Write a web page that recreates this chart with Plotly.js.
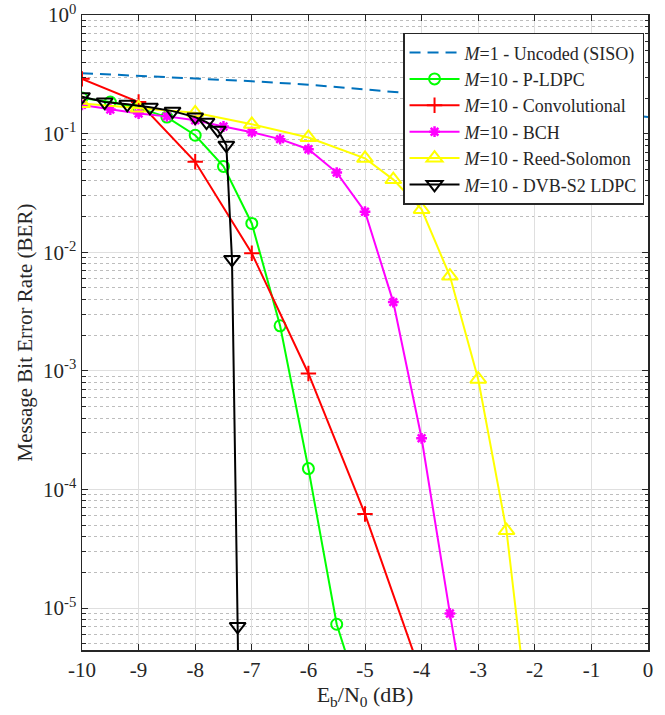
<!DOCTYPE html>
<html>
<head>
<meta charset="utf-8">
<script src="https://cdn.plot.ly/plotly-3.0.1.min.js"></script>
<style>html,body{margin:0;padding:0;background:#fff;}#chart{width:665px;height:715px;}</style>
</head>
<body>
<div id="chart"></div>
<script>
// ---- data ----
const uncodedX = [-10, -9, -8, -7, -6, -5, -4, -3, -2, -1, 0];
const uncodedY = [0.324, 0.309, 0.294, 0.277, 0.259, 0.237, 0.215, 0.194, 0.174, 0.155, 0.138];

const pldpcX = [-10, -9.5, -9, -8.5, -8, -7.5, -7, -6.5, -6, -5.5, -5];
const pldpcY = [0.20, 0.185, 0.165, 0.138, 0.097, 0.053, 0.0175, 0.0024, 1.5e-4, 7.3e-6, 1.3e-6];

const convX = [-10, -9, -8, -7, -6, -5, -4];
const convY = [0.29, 0.185, 0.058, 0.0098, 9.5e-4, 6.2e-5, 2.7e-6];

const bchX = [-10, -9.5, -9, -8.5, -8, -7.5, -7, -6.5, -6, -5.5, -5, -4.5, -4, -3.5, -3];
const bchY = [0.175, 0.16, 0.148, 0.14, 0.13, 0.115, 0.103, 0.09, 0.074, 0.047, 0.022, 0.0038, 2.7e-4, 9e-6, 3.5e-7];

const rsX = [-10, -9, -8, -7, -6, -5, -4.5, -4, -3.5, -3, -2.5, -2];
const rsY = [0.18, 0.165, 0.15, 0.12, 0.093, 0.062, 0.041, 0.023, 0.0063, 8.5e-4, 4.5e-5, 4e-7];

const dvbX = [-10, -9.6, -9.2, -8.8, -8.4, -8, -7.8, -7.6, -7.45, -7.35, -7.25, -7.2];
const dvbY = [0.205, 0.185, 0.177, 0.167, 0.155, 0.138, 0.125, 0.107, 0.08, 0.0087, 7e-6, 1e-7];

const names = [
  '<i>M</i>=1 - Uncoded (SISO)',
  '<i>M</i>=10 - P-LDPC',
  '<i>M</i>=10 - Convolutional',
  '<i>M</i>=10 - BCH',
  '<i>M</i>=10 - Reed-Solomon',
  '<i>M</i>=10 - DVB-S2 LDPC'
];

const xTickVals = [-10, -9, -8, -7, -6, -5, -4, -3, -2, -1, 0];
const yTickVals = [1e-5, 1e-4, 1e-3, 1e-2, 1e-1, 1];
const yTickText = ['10<sup>-5</sup>', '10<sup>-4</sup>', '10<sup>-3</sup>', '10<sup>-2</sup>', '10<sup>-1</sup>', '10<sup>0</sup>'];

// minor tick positions for log axis (2..9 per decade)
const yMinor = [];
for (let e = -6; e <= -1; e++) for (let k = 2; k <= 9; k++) yMinor.push(k * Math.pow(10, e));

const traces = [
  {x: uncodedX, y: uncodedY, name: names[0], mode: 'lines',
   line: {color: '#0072BD', width: 2, dash: '11px,7px'}},
  {x: pldpcX, y: pldpcY, name: names[1], mode: 'lines+markers',
   line: {color: '#00FF00', width: 2},
   marker: {symbol: 'circle-open', size: 11, color: '#00FF00', line: {width: 2, color: '#00FF00'}}},
  {x: convX, y: convY, name: names[2], mode: 'lines+markers',
   line: {color: '#FF0000', width: 2},
   marker: {symbol: 'cross-thin-open', size: 11, color: '#FF0000', line: {width: 2, color: '#FF0000'}}},
  {x: bchX, y: bchY, name: names[3], mode: 'lines+markers',
   line: {color: '#FF00FF', width: 2},
   marker: {symbol: 'asterisk-open', size: 9, color: '#FF00FF', line: {width: 2.5, color: '#FF00FF'}}},
  {x: rsX, y: rsY, name: names[4], mode: 'lines+markers',
   line: {color: '#FFFF00', width: 2},
   marker: {symbol: 'triangle-up-open', size: 14, color: '#FFFF00', line: {width: 2, color: '#FFFF00'}}},
  {x: dvbX, y: dvbY, name: names[5], mode: 'lines+markers',
   line: {color: '#000000', width: 2},
   marker: {symbol: 'triangle-down-open', size: 14, color: '#000000', line: {width: 2, color: '#000000'}}}
];

const font = {family: '"Liberation Serif", "Times New Roman", serif', color: '#262626'};

const layout = {
  width: 665, height: 715,
  margin: {l: 82, r: 17, t: 15, b: 65, pad: 0},
  paper_bgcolor: '#ffffff', plot_bgcolor: '#ffffff',
  font: Object.assign({size: 19}, font),
  showlegend: true,
  legend: {
    x: 0.993, y: 0.972, xanchor: 'right', yanchor: 'top',
    bgcolor: '#ffffff', bordercolor: '#262626', borderwidth: 1.5,
    font: Object.assign({size: 18}, font), tracegroupgap: 0,
    itemwidth: 50
  },
  xaxis: {
    range: [-10, 0], tickvals: xTickVals, ticktext: xTickVals.map(v => String(v)),
    ticks: 'inside', ticklen: 6, tickwidth: 1, tickcolor: '#262626',
    showline: true, linecolor: '#262626', linewidth: 1.5, mirror: 'ticks',
    showgrid: true, gridcolor: '#dfdfdf', gridwidth: 1,
    zeroline: false, ticklabeloverflow: 'allow',
    tickfont: Object.assign({size: 21}, font),
    title: {text: 'E<sub>b</sub>/N<sub>0</sub> (dB)', font: Object.assign({size: 22}, font), standoff: 6}
  },
  yaxis: {
    type: 'log', range: [-5.354, 0.001],
    tickvals: yTickVals, ticktext: yTickText,
    ticks: 'inside', ticklen: 6, tickwidth: 1, tickcolor: '#262626',
    showline: true, linecolor: '#262626', linewidth: 1.5, mirror: 'ticks',
    showgrid: true, gridcolor: '#dfdfdf', gridwidth: 1,
    zeroline: false, ticklabeloverflow: 'allow',
    minor: {tickvals: yMinor, ticks: 'inside', ticklen: 3.5, tickcolor: '#262626',
            showgrid: true, gridcolor: '#bdbdbd', griddash: 'dot', gridwidth: 1},
    tickfont: Object.assign({size: 21}, font),
    title: {text: 'Message Bit Error Rate (BER)', font: Object.assign({size: 21}, font), standoff: 4}
  }
};

Plotly.newPlot('chart', traces, layout, {displayModeBar: false, staticPlot: true});
</script>
</body>
</html>
